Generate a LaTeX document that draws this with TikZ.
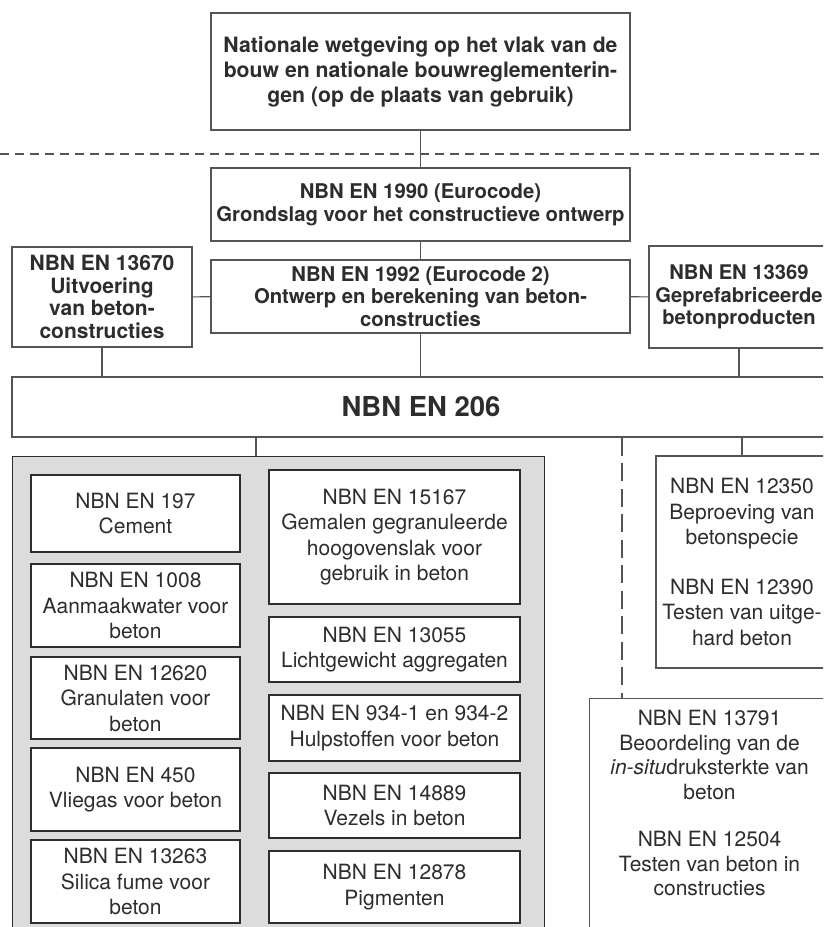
\documentclass[tikz,border=0pt]{standalone}
\usepackage{fontspec}
\setmainfont{TeX Gyre Heros}
\usepackage{tikz}
\usetikzlibrary{positioning, calc}
\definecolor{linegray}{RGB}{85,85,85}
\definecolor{textgray}{RGB}{45,45,45}
\definecolor{panelgray}{RGB}{220,220,220}

\begin{document}
\begin{tikzpicture}[x=1pt, y=-1pt,
    every node/.style={inner sep=0pt, align=center, text=textgray},
    hdrbox/.style={draw=linegray, line width=1.2pt, fill=white, font=\bfseries\fontsize{21}{22.7}\selectfont},
    normbox/.style={draw=textgray, line width=1.1pt, fill=white, font=\fontsize{21}{25.5}\selectfont},
    link/.style={draw=linegray, line width=1.2pt}]
  \useasboundingbox (0,0) rectangle (823,927);
  \clip (0,0) rectangle (823,927);

  % legal level, above the dashed separator
  \coordinate (sepL) at (0,154);
  \coordinate (sepR) at (823,154);
  \draw[link, dash pattern=on 9pt off 6pt] (sepL) -- (sepR);
  \node[hdrbox, minimum width=419pt, minimum height=117pt, font=\bfseries\fontsize{21.2}{25}\selectfont] (law) at (420.5,71.5)
    {Nationale wetgeving op het vlak van de\\bouw en nationale bouwreglementerin-\\gen (op de plaats van gebruik)};

  % design codes
  \node[hdrbox, minimum width=419pt, minimum height=73pt, font=\bfseries\fontsize{20.3}{22.7}\selectfont] (ec0) at (420.5,204.5)
    {NBN EN 1990 (Eurocode)\\Grondslag voor het constructieve ontwerp};
  \node[hdrbox, minimum width=419pt, minimum height=73pt, font=\bfseries\fontsize{20.3}{22.7}\selectfont] (ec2) at (420.5,296.5)
    {NBN EN 1992 (Eurocode 2)\\Ontwerp en berekening van beton-\\constructies};
  \node[hdrbox, minimum width=180pt, minimum height=100pt] (exec) at (102,297)
    {NBN EN 13670\\Uitvoering\\van beton-\\constructies};
  \node[hdrbox, minimum width=180pt, minimum height=102pt, font=\bfseries\fontsize{20.2}{22.7}\selectfont] (prefab) at (739,297)
    {NBN EN 13369\\Geprefabriceerde\\betonproducten};
  \node[hdrbox, minimum width=818pt, minimum height=60pt, font=\bfseries\fontsize{27.5}{30}\selectfont] (en206) at (421,407) {NBN EN 206};

  \draw[link] (law) -- (ec0);
  \draw[link] (ec0) -- (ec2);
  \draw[link] (exec) -- (ec2);
  \draw[link] (ec2) -- (prefab);
  \draw[link] (exec.south) -- (exec.south |- en206.north);
  \draw[link] (ec2.south) -- (ec2.south |- en206.north);
  \draw[link] (prefab.south) -- (prefab.south |- en206.north);

  % constituent materials
  \node[draw=textgray, line width=1.1pt, fill=panelgray, minimum width=532pt, minimum height=504pt, anchor=north west] (panel) at (12,456) {};
  \coordinate (panelin) at (256,456);
  \draw[link] (en206.south -| panelin) -- (panelin);

  \node[normbox, minimum width=209pt, minimum height=77pt] (cem) at (135.5,513.5) {NBN EN 197\\Cement};
  \node[normbox, minimum width=209pt, minimum height=83pt] (water) at (135.5,605.5) {NBN EN 1008\\Aanmaakwater voor\\beton};
  \node[normbox, minimum width=209pt, minimum height=82pt] (aggr) at (135.5,698) {NBN EN 12620\\Granulaten voor\\beton};
  \node[normbox, minimum width=209pt, minimum height=83pt] (flyash) at (135.5,789.5) {NBN EN 450\\Vliegas voor beton};
  \node[normbox, minimum width=209pt, minimum height=83pt] (silica) at (135.5,881.5) {NBN EN 13263\\Silica fume voor\\beton};

  \node[normbox, minimum width=251pt, minimum height=134pt] (slag) at (394.5,537) {NBN EN 15167\\Gemalen gegranuleerde\\hoogovenslak voor\\gebruik in beton};
  \node[normbox, minimum width=251pt, minimum height=65pt] (light) at (394.5,649.5) {NBN EN 13055\\Lichtgewicht aggregaten};
  \node[normbox, minimum width=251pt, minimum height=66pt] (admix) at (394.5,728) {NBN EN 934-1 en 934-2\\Hulpstoffen voor beton};
  \node[normbox, minimum width=251pt, minimum height=65pt] (fibre) at (394.5,805.5) {NBN EN 14889\\Vezels in beton};
  \node[normbox, minimum width=251pt, minimum height=72pt] (pigm) at (394.5,887) {NBN EN 12878\\Pigmenten};

  % testing
  \node[normbox, draw=linegray, minimum width=172pt, minimum height=212pt] (fresh) at (742,562)
    {NBN EN 12350\\Beproeving van\\betonspecie\\[24pt]NBN EN 12390\\Testen van uitge-\\hard beton};
  \node[normbox, draw=linegray, minimum width=240pt, minimum height=300pt, anchor=north west] (insitu) at (589,698) {};
  \node[anchor=north, font=\fontsize{21}{24.5}\selectfont] (insitutext) at ([yshift=-12pt]insitu.north)
    {NBN EN 13791\\Beoordeling van de\\\textit{in-situ}druksterkte van\\beton\\[23pt]NBN EN 12504\\Testen van beton in\\constructies};
  \coordinate (ndtin) at (622,698);

  \draw[link] (en206.south -| fresh.north) -- (fresh.north);
  \draw[link, dash pattern=on 18pt off 7.5pt] (en206.south -| ndtin) -- (ndtin);
\end{tikzpicture}
\end{document}
